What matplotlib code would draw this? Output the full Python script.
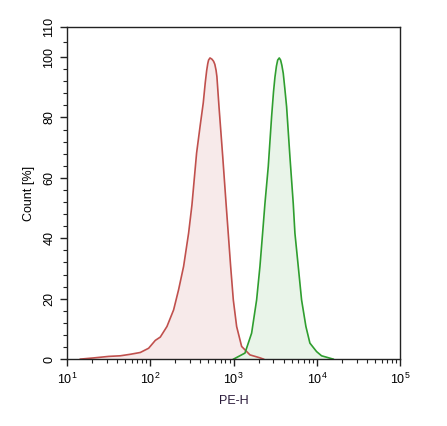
import matplotlib.pyplot as plt
import matplotlib as mpl
import numpy as np
from matplotlib.ticker import FixedLocator, LogLocator, NullFormatter

mpl.rc('font', family=['Liberation Sans', 'DejaVu Sans'])

# traced histograms, x given as log10(PE-H)
red_logx = [1.16, 1.32, 1.50, 1.64, 1.76, 1.88, 1.98, 2.06, 2.12, 2.20, 2.28, 2.34,
            2.40, 2.46, 2.50, 2.556, 2.60, 2.636, 2.66, 2.677, 2.69, 2.70, 2.717,
            2.74, 2.76, 2.775, 2.79, 2.80, 2.825, 2.87,
            2.91, 2.936, 2.965, 2.997, 3.037, 3.097, 3.197, 3.32, 3.36]
red_count = [0.0, 0.4, 0.9, 1.1, 1.6, 2.2, 3.6, 6.2, 7.3, 10.8, 16.3, 23.0,
             30.7, 41.7, 51.0, 68.2, 77.5, 84.8, 91.5, 95.5, 97.8, 99.0, 99.7,
             99.3, 98.6, 97.6, 95.6, 93.5, 83.6, 67.0,
             51.5, 41.7, 30.7, 19.6, 10.8, 4.2, 1.4, 0.4, 0.0]

green_logx = [3.0, 3.137, 3.217, 3.277, 3.317, 3.349, 3.377, 3.417, 3.457, 3.48,
              3.497, 3.515, 3.53, 3.549, 3.565, 3.58, 3.597, 3.615, 3.637, 3.677,
              3.717, 3.737, 3.777, 3.817, 3.869, 3.917, 3.997, 4.057, 4.197]
green_count = [0.0, 2.0, 8.6, 19.6, 30.7, 41.7, 51.5, 63.8, 80.3, 88.5,
               93.3, 97.0, 99.0, 99.7, 99.0, 97.3, 94.6, 89.8, 83.6, 67.0,
               51.5, 41.7, 30.7, 19.6, 10.8, 5.3, 2.5, 1.1, 0.0]

y_major = [0, 20, 40, 60, 80, 100, 110]
y_minor = list(range(0, 101, 4)) + [105]

fg = plt.figure(figsize=(4.47, 4.26), dpi=100)
ax = fg.add_axes([0.150, 0.157, 0.745, 0.780])

rx = 10 ** np.array(red_logx)
gx = 10 ** np.array(green_logx)
ax.fill_between(rx, red_count, 0, color='#f7eaea', lw=0)
ax.fill_between(gx, green_count, 0, color='#e9f4e9', lw=0)
ax.plot(rx, red_count, color='#c0504d', lw=1.2)
ax.plot(gx, green_count, color='#2f9e2f', lw=1.2)

ax.set_xscale('log')
ax.set_xlim(10, 1e5)
ax.set_ylim(0, 110)
ax.xaxis.set_major_locator(LogLocator(base=10, numticks=10))
ax.xaxis.set_minor_locator(LogLocator(base=10, subs=np.arange(2, 10), numticks=20))
ax.xaxis.set_minor_formatter(NullFormatter())
ax.yaxis.set_major_locator(FixedLocator(y_major))
ax.yaxis.set_minor_locator(FixedLocator(y_minor))
ax.set_yticklabels([str(v) for v in y_major], rotation=90, va='center', fontsize=9)
ax.tick_params(axis='x', labelsize=9, pad=4)
ax.tick_params(which='major', length=5, width=1.0, direction='out', color='#222222')
ax.tick_params(which='minor', length=3, width=0.8, direction='out', color='#222222')
for s in ax.spines.values():
    s.set_linewidth(1.0)
    s.set_color('#222222')

ax.set_ylabel('Count [%]', fontsize=9, labelpad=6)
ax.set_xlabel('PE-H', fontsize=9, labelpad=6, color='#2a1a3a')

plt.savefig('out.png', dpi=100)
